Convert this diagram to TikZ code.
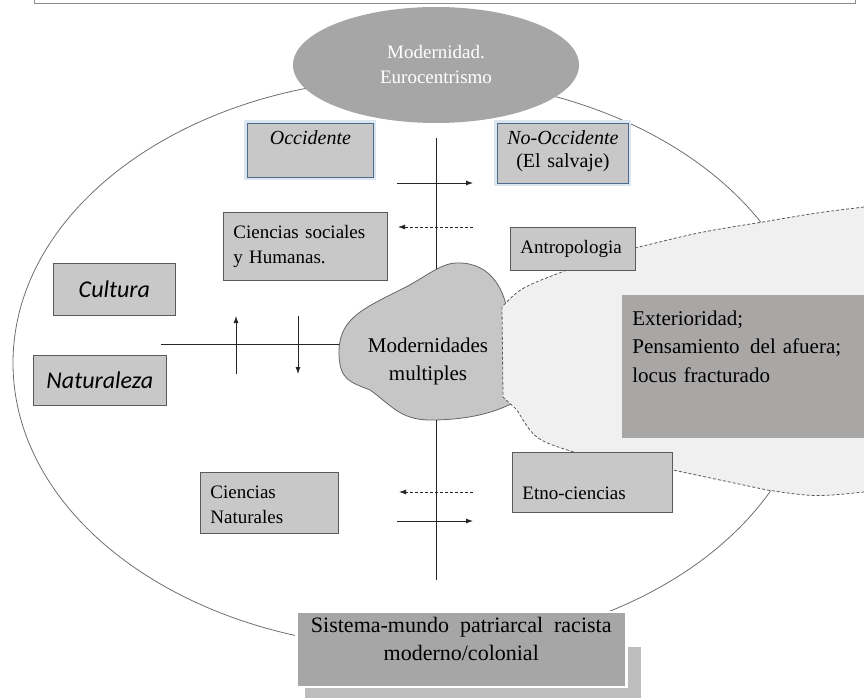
\documentclass[tikz,border=0pt]{standalone}
\usepackage{fontspec}
\setmainfont{Liberation Serif}
\newfontfamily\calibri{Carlito}
\usetikzlibrary{positioning,shapes.geometric,arrows.meta}
\definecolor{boxfill}{HTML}{C8C8C8}
\definecolor{boxedge}{HTML}{5A5A5A}
\definecolor{blueedge}{HTML}{4F6B8C}
\definecolor{blueglow}{HTML}{DCE6F0}
\definecolor{ovalfill}{HTML}{A6A6A6}
\definecolor{darkfill}{HTML}{A9A6A6}
\definecolor{blobfill}{HTML}{C6C6C6}
\definecolor{zonefill}{HTML}{F0F0F0}
\definecolor{rimgray}{HTML}{6E6E6E}
\definecolor{shadowgray}{HTML}{BDBDBD}

\begin{document}
\begin{tikzpicture}[x=1pt,y=-1pt,>={Latex[length=7pt,width=5pt]},
    txt/.style n args={2}{font=\fontsize{#1pt}{#2pt}\selectfont},
    box/.style={draw=boxedge,fill=boxfill,line width=0.8pt,inner xsep=10pt,inner ysep=0pt,align=left,anchor=base west},
    westbox/.style={box,draw=blueedge,preaction={draw=blueglow,line width=6pt},align=center},
    sansbox/.style={box,align=center,font=\calibri\itshape\fontsize{24pt}{29pt}\selectfont},
    axisline/.style={draw=black!85,line width=0.8pt},
    dashline/.style={axisline,dash pattern=on 3pt off 2pt}]
\useasboundingbox (0,0) rectangle (864,698);

% outer oval and header frame
\draw[rimgray,line width=0.8pt] (413,363) ellipse [x radius=400,y radius=285];
\draw[draw=black!45,fill=white,line width=1pt] (34,-20) rectangle (855,4);
\node[ellipse,fill=ovalfill,text=white,minimum width=286pt,minimum height=116pt,inner sep=0pt,txt={19}{25},align=center] (euro) at (436,65) {Modernidad.\\Eurocentrismo};

% modernidades multiples
\draw[draw=black!60,fill=blobfill,line width=0.8pt] (457,263) .. controls (492,262) and (506,292) .. (508,318) -- (508,395) -- (513,403)
  .. controls (495,412) and (470,420) .. (430,420) .. controls (400,420) and (390,404) .. (370,390)
  .. controls (350,382) and (340,380) .. (339,355) .. controls (338,320) and (360,310) .. (400,290)
  .. controls (425,278) and (440,263) .. (457,263) -- cycle;
\coordinate (blobtop) at (436,269);
\coordinate (blobbot) at (436,420);
\coordinate (blobleft) at (339,344);

% exterioridad zone
\fill[zonefill] (567,270) .. controls (595,258) .. (635,248) .. controls (700,232) .. (763,222) .. controls (815,213) .. (864,207)
  -- (864,492) .. controls (815,497) .. (767,490) .. controls (720,480) .. (673,470) .. controls (625,462) .. (577,453)
  .. controls (535,440) .. (517,410) -- (503,397) -- (502,307) .. controls (520,288) .. (567,270) -- cycle;
\draw[dashline,draw=black!65] (864,207) .. controls (815,213) .. (763,222) .. controls (700,232) .. (635,248) .. controls (595,258) .. (567,270)
  .. controls (520,288) .. (502,307) -- (503,397) -- (517,410) .. controls (535,440) .. (577,453) .. controls (625,462) .. (673,470)
  .. controls (720,480) .. (767,490) .. controls (815,497) .. (864,492);
\node[txt={21}{28},align=center] (modmult) at (428,361) {Modernidades\\multiples};

% cross
\coordinate (vtop) at (436,138);
\coordinate (vbot) at (436,580);
\coordinate (hleft) at (161,344);
\draw[axisline] (vtop) -- (blobtop);
\draw[axisline] (blobbot) -- (vbot);
\draw[axisline] (hleft) -- (blobleft);

% small arrows
\coordinate (up1) at (397,183);   \coordinate (up2) at (473,183);
\coordinate (ud1) at (473,227);   \coordinate (ud2) at (398,227);
\coordinate (lo1) at (473,492);   \coordinate (lo2) at (399,492);
\coordinate (ld1) at (397,521);   \coordinate (ld2) at (473,521);
\coordinate (cu1) at (236,374);   \coordinate (cu2) at (236,316);
\coordinate (cd1) at (298,316);   \coordinate (cd2) at (298,374);
\draw[axisline,->] (up1) -- (up2);
\draw[dashline,->] (ud1) -- (ud2);
\draw[dashline,->] (lo1) -- (lo2);
\draw[axisline,->] (ld1) -- (ld2);
\draw[axisline,->] (cu1) -- (cu2);
\draw[axisline,->] (cd1) -- (cd2);

% boxes
\node[westbox,txt={20}{24},text width=106pt,text height=21pt,text depth=33pt] (occ) at (247,144) {\textit{Occidente}};
\node[westbox,txt={20}{23},inner xsep=3pt,text width=125pt,text height=21pt,text depth=39pt] (noocc) at (497,144) {\textit{No-Occidente}\\(El salvaje)};
\node[box,txt={19}{25},text width=144pt,text height=26pt,text depth=42pt] (cso) at (223,238) {Ciencias sociales\\y Humanas.};
\node[box,txt={19}{25},text width=105pt,text height=26pt,text depth=17pt] (antro) at (510,253) {Antropologia};
\node[sansbox,text width=102pt,text height=34pt,text depth=18pt] (cult) at (53,297) {Cultura};
\node[sansbox,text width=113pt,text height=33pt,text depth=17pt] (natu) at (33,388) {Naturaleza};
\node[box,txt={19}{25},text width=118pt,text height=26pt,text depth=35pt] (cnat) at (200,498) {Ciencias\\Naturales};
\node[box,txt={19}{25},text width=140pt,text height=47pt,text depth=13pt] (etno) at (512,499) {Etno-ciencias};
\node[box,draw=none,fill=darkfill,txt={21}{28.5},text width=240pt,text height=30pt,text depth=113pt] (ext) at (622,325) {Exterioridad;\\Pensamiento\enspace del afuera;\\locus fracturado};

% sistema-mundo
\fill[shadowgray] (305,647) rectangle (641,700);
\node[box,draw=white,line width=2.5pt,fill=ovalfill,txt={22}{28},align=center,text width=310pt,text height=20pt,text depth=55pt] (sis) at (295,632) {Sistema-mundo\enspace patriarcal\enspace racista\\moderno/colonial};
\end{tikzpicture}
\end{document}
